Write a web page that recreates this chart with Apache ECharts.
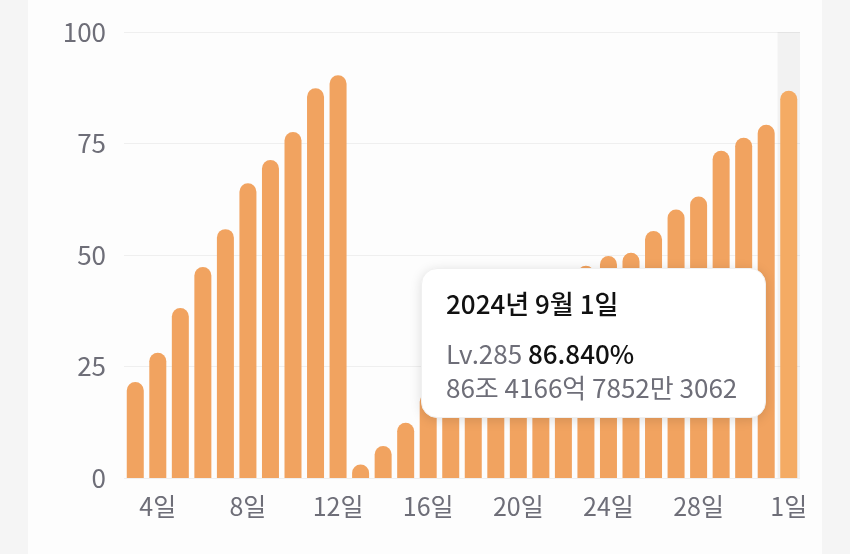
<!DOCTYPE html>
<html>
<head>
<meta charset="utf-8">
<script src="https://cdn.jsdelivr.net/npm/echarts@6/dist/echarts.min.js"></script>
<style>
html,body{margin:0;padding:0;background:#f5f5f5;width:850px;height:554px;overflow:hidden;}
#card{position:absolute;left:28px;top:0;width:794px;height:554px;background:#fdfdfd;}
#chart{position:absolute;left:0;top:0;width:850px;height:554px;}
</style>
</head>
<body>
<div id="card"></div>
<div id="chart"></div>
<script>
// Categories (days from Aug 3 to Sep 1)
const categories = ['3일','4일','5일','6일','7일','8일','9일','10일','11일','12일','13일','14일','15일','16일','17일','18일','19일','20일','21일','22일','23일','24일','25일','26일','27일','28일','29일','30일','31일','1일'];
// Experience percentage per day
const values = [21.5,28.1,38.1,47.3,55.8,66.1,71.3,77.6,87.4,90.3,3.0,7.2,12.4,19,23,27,32,37,41,45,47.6,49.8,50.5,55.4,60.2,63.1,73.4,76.3,79.2,86.84];
// Y-axis ticks
const yTicks = [0,25,50,75,100];
// Tooltip content for the highlighted day
const tipTitle = '2024년 9월 1일';
const tipLevel = 'Lv.285';
const tipPercent = '86.840%';
const tipExp = '86조 4166억 7852만 3062';
const tipIndex = 29;

const chart = echarts.init(document.getElementById('chart'), null, {renderer:'canvas'});
const font = "'Noto Sans CJK KR','Noto Sans',sans-serif";
chart.setOption({
  animation:false,
  backgroundColor:'transparent',
  grid:{left:124,right:50,top:32,bottom:76,containLabel:false},
  xAxis:{
    type:'category',
    data:categories,
    axisLine:{show:false},
    axisTick:{show:false},
    axisLabel:{
      color:'#6e6e78',fontSize:25,fontFamily:font,margin:16,
      interval:function(i){return (i-1)%4===0;}
    }
  },
  yAxis:{
    type:'value',min:yTicks[0],max:yTicks[yTicks.length-1],interval:25,
    axisLine:{show:false},axisTick:{show:false},
    axisLabel:{color:'#6e6e78',fontSize:26,fontFamily:font,margin:18},
    splitLine:{lineStyle:{color:'#efefef',width:1}}
  },
  tooltip:{
    trigger:'axis',
    alwaysShowContent:true,
    axisPointer:{type:'shadow',shadowStyle:{color:'rgba(0,0,0,0.045)'}},
    position:[421,268],
    backgroundColor:'#ffffff',
    borderColor:'#f0f0f0',
    borderWidth:1,
    borderRadius:16,
    padding:[17,24,13,24],
    extraCssText:'box-shadow:0 2px 12px rgba(0,0,0,0.13);white-space:nowrap;width:295px;',
    formatter:function(){
      return '<div style="font-family:'+font.replace(/'/g,'&quot;')+';">'+
        '<div style="font-size:26px;font-weight:500;color:#111;line-height:34px;">'+tipTitle+'</div>'+
        '<div style="height:16px"></div>'+
        '<div style="font-size:26px;line-height:34px;color:#6e6e78;">'+tipLevel+' <span style="color:#111;font-weight:500;">'+tipPercent+'</span></div>'+
        '<div style="font-size:26px;line-height:34px;color:#6e6e78;">'+tipExp+'</div>'+
        '</div>';
    }
  },
  series:[{
    type:'bar',
    data:values,
    barWidth:17,
    itemStyle:{color:'#f1a360',borderRadius:[9,9,0,0]}
  }]
});
chart.dispatchAction({type:'showTip',seriesIndex:0,dataIndex:tipIndex});
</script>
</body>
</html>
